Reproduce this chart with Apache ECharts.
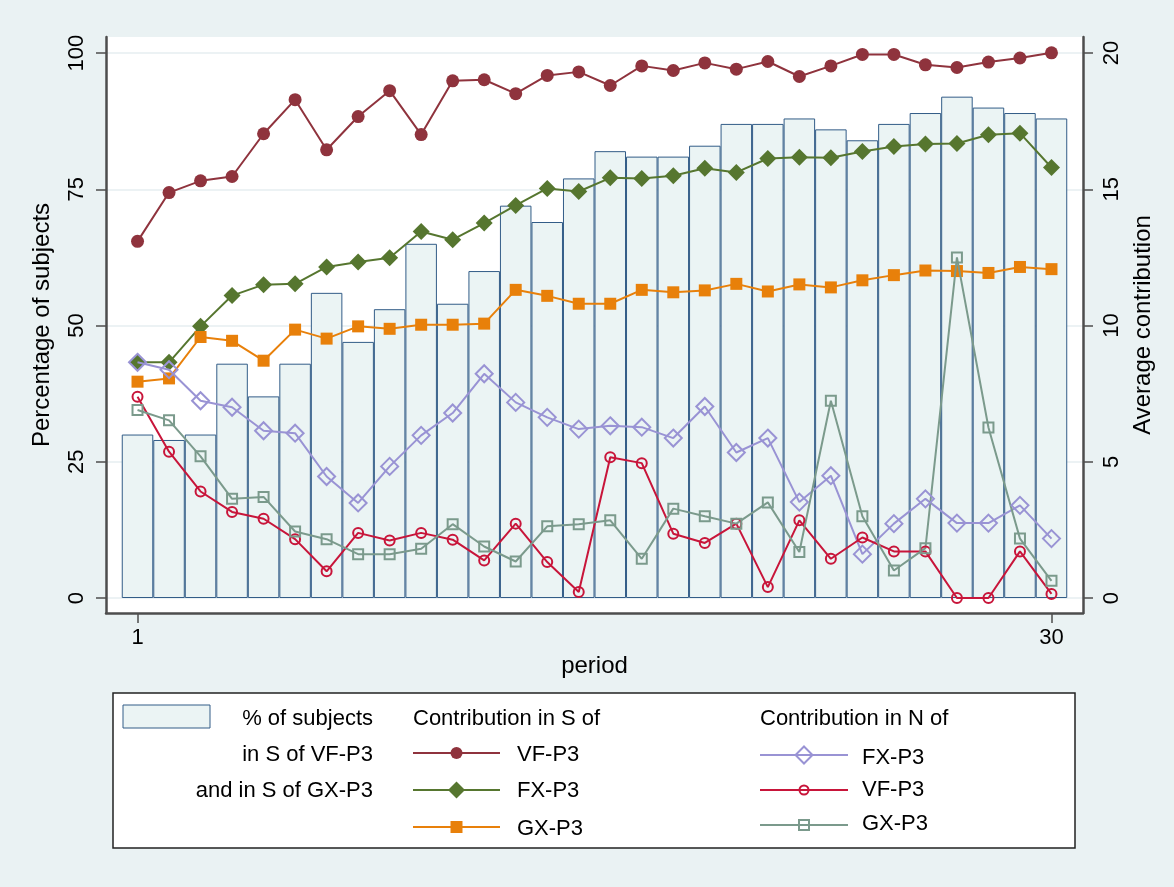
<!DOCTYPE html>
<html>
<head>
<meta charset="utf-8">
<script src="https://cdn.jsdelivr.net/npm/echarts@6/dist/echarts.min.js"></script>
<style>
html,body{margin:0;padding:0;background:#eaf2f3;}
#c{width:1174px;height:887px;}
</style>
</head>
<body>
<div id="c"></div>
<script>
// ---- data ----
const periods = [1,2,3,4,5,6,7,8,9,10,11,12,13,14,15,16,17,18,19,20,21,22,23,24,25,26,27,28,29,30];
const xTickValues = [1, 30];
const leftTickValues = [0, 25, 50, 75, 100];
const rightTickValues = [0, 5, 10, 15, 20];

// % of subjects in S of VF-P3 and in S of GX-P3 (left axis)
const pctSubjects = [30,29,30,43,37,43,56,47,53,65,54,60,72,69,77,82,81,81,83,87,87,88,86,84,87,89,92,90,89,88];

// Contribution in S of ... (right axis)
const sVF = [13.09,14.88,15.31,15.47,17.04,18.29,16.45,17.67,18.62,17.01,18.98,19.02,18.51,19.18,19.31,18.81,19.53,19.36,19.64,19.41,19.69,19.14,19.53,19.95,19.95,19.57,19.47,19.67,19.82,20.01];
const sFX = [8.65,8.65,9.97,11.1,11.5,11.53,12.15,12.33,12.49,13.45,13.15,13.76,14.41,15.03,14.92,15.42,15.4,15.5,15.77,15.62,16.13,16.18,16.16,16.39,16.57,16.66,16.68,17.0,17.06,15.8];
const sGX = [7.94,8.06,9.58,9.44,8.71,9.85,9.52,9.97,9.88,10.03,10.03,10.07,11.31,11.09,10.8,10.8,11.31,11.22,11.29,11.53,11.25,11.51,11.4,11.66,11.85,12.02,12.0,11.93,12.15,12.07];

// Contribution in N of ... (right axis)
const nFX = [8.65,8.38,7.24,7.0,6.14,6.05,4.46,3.49,4.83,5.97,6.79,8.23,7.18,6.63,6.2,6.32,6.27,5.87,7.03,5.34,5.87,3.52,4.49,1.61,2.73,3.64,2.75,2.75,3.4,2.18];
const nVF = [7.39,5.37,3.91,3.16,2.91,2.16,0.98,2.39,2.11,2.39,2.14,1.38,2.73,1.32,0.22,5.17,4.95,2.36,2.02,2.73,0.4,2.85,1.44,2.22,1.71,1.71,0,0,1.71,0.15];
const nGX = [6.9,6.52,5.2,3.64,3.71,2.44,2.16,1.61,1.61,1.81,2.71,1.89,1.34,2.63,2.71,2.85,1.44,3.28,3.0,2.73,3.51,1.69,7.24,3.0,1.01,1.83,12.5,6.26,2.18,0.63];

// ---- styling ----
const FONT = "'Liberation Sans', Arial, Helvetica, sans-serif";
const C = {
  bar: '#ebf4f4', barBorder: '#325c87',
  sVF: '#8f333d', sFX: '#56762f', sGX: '#e8800a',
  nFX: '#9993d4', nVF: '#c8153a', nGX: '#7b9a8c',
  axis: '#4d4d4d', grid: '#e6eef0'
};
const G = {left: 106, top: 37, width: 977, height: 576};
const xMin = 0, xMax = 31;
const barW = G.width / (xMax - xMin);

function pairs(v) { return periods.map((p, i) => [p, v[i]]); }

function lineSeries(name, data, color, symbol, size, hollow, z) {
  return {
    name: name, type: 'line', xAxisIndex: 0, yAxisIndex: 1,
    data: pairs(data), symbol: symbol, symbolSize: size, showSymbol: true,
    lineStyle: {color: color, width: 2},
    itemStyle: hollow
      ? {color: 'rgba(255,255,255,0)', borderColor: color, borderWidth: 2}
      : {color: color, borderWidth: 0},
    z: z, animation: false, silent: true
  };
}

// ---- legend (drawn as graphic) ----
function legendSym(cx, cy, color, kind, size, hollow) {
  const style = hollow ? {fill: 'rgba(0,0,0,0)', stroke: color, lineWidth: 2} : {fill: color};
  const h = size / 2;
  if (kind === 'circle') return {type: 'circle', shape: {cx: cx, cy: cy, r: h}, style: style, z: 12};
  if (kind === 'rect') return {type: 'rect', shape: {x: cx - h, y: cy - h, width: size, height: size}, style: style, z: 12};
  return {type: 'polygon', shape: {points: [[cx, cy - h], [cx + h, cy], [cx, cy + h], [cx - h, cy]]}, style: style, z: 12};
}
function legendItem(x1, x2, y, color, kind, size, hollow, label, lx, ly) {
  return [
    {type: 'line', shape: {x1: x1, y1: y, x2: x2, y2: y}, style: {stroke: color, lineWidth: 2}, z: 11},
    legendSym((x1 + x2) / 2, y, color, kind, size, hollow),
    {type: 'text', style: {text: label, x: lx, y: ly, font: '22px ' + FONT, fill: '#000', align: 'left', verticalAlign: 'middle'}, z: 12}
  ];
}
function txt(t, x, y, align) {
  return {type: 'text', style: {text: t, x: x, y: y, font: '22px ' + FONT, fill: '#000', align: align, verticalAlign: 'middle'}, z: 12};
}

const graphics = [
  {type: 'rect', shape: {x: 113, y: 693, width: 962, height: 155}, style: {fill: '#ffffff', stroke: '#222', lineWidth: 1.5}, z: 10},
  {type: 'rect', shape: {x: 123, y: 705, width: 87, height: 23}, style: {fill: C.bar, stroke: C.barBorder, lineWidth: 1}, z: 11},
  txt('% of subjects', 373, 719, 'right'),
  txt('in S of VF-P3', 373, 755, 'right'),
  txt('and in S of GX-P3', 373, 791, 'right'),
  txt('Contribution in S of', 413, 719, 'left'),
  txt('Contribution in N of', 760, 719, 'left')
].concat(
  legendItem(413, 500, 753, C.sVF, 'circle', 12, false, 'VF-P3', 517, 755),
  legendItem(413, 500, 790, C.sFX, 'diamond', 17, false, 'FX-P3', 517, 791),
  legendItem(413, 500, 827, C.sGX, 'rect', 12, false, 'GX-P3', 517, 829),
  legendItem(760, 848, 755, C.nFX, 'diamond', 17, true, 'FX-P3', 862, 758),
  legendItem(760, 848, 790, C.nVF, 'circle', 9, true, 'VF-P3', 862, 790),
  legendItem(760, 848, 825, C.nGX, 'rect', 10, true, 'GX-P3', 862, 824)
);

const axisText = {fontSize: 22, fontFamily: FONT, color: '#000'};
const titleText = {fontSize: 24, fontFamily: FONT, color: '#000'};

const option = {
  backgroundColor: '#eaf2f3',
  animation: false,
  grid: {left: G.left, top: G.top, width: G.width, height: G.height, show: true, backgroundColor: '#ffffff', borderWidth: 0},
  xAxis: {
    type: 'value', min: xMin, max: xMax,
    name: 'period', nameLocation: 'middle', nameGap: 40, nameTextStyle: titleText,
    axisLine: {show: true, onZero: false, lineStyle: {color: C.axis, width: 2.5}},
    axisTick: {show: true, length: 10, customValues: xTickValues, lineStyle: {color: C.axis, width: 1.5}},
    axisLabel: Object.assign({customValues: xTickValues, margin: 14}, axisText),
    splitLine: {show: false}
  },
  yAxis: [
    {
      type: 'value', position: 'left', min: -2.75, max: 102.95,
      name: 'Percentage of subjects', nameLocation: 'middle', nameRotate: 90, nameGap: 52, nameTextStyle: titleText,
      axisLine: {show: true, onZero: false, lineStyle: {color: C.axis, width: 2.5}},
      axisTick: {show: true, length: 10, customValues: leftTickValues, lineStyle: {color: C.axis, width: 1.5}},
      axisLabel: Object.assign({customValues: leftTickValues, rotate: 90, margin: 18}, axisText),
      splitLine: {show: true, lineStyle: {color: C.grid, width: 1.5}}
    },
    {
      type: 'value', position: 'right', min: -0.55, max: 20.59,
      name: 'Average contribution', nameLocation: 'middle', nameRotate: 90, nameGap: 45, nameTextStyle: titleText,
      axisLine: {show: true, onZero: false, lineStyle: {color: C.axis, width: 2.5}},
      axisTick: {show: true, length: 10, customValues: rightTickValues, lineStyle: {color: C.axis, width: 1.5}},
      axisLabel: Object.assign({customValues: rightTickValues, rotate: 90, margin: 18}, axisText),
      splitLine: {show: false}
    }
  ],
  series: [
    {
      name: '% of subjects in S of VF-P3 and in S of GX-P3', type: 'bar', xAxisIndex: 0, yAxisIndex: 0,
      data: pairs(pctSubjects), barWidth: barW,
      itemStyle: {color: C.bar, borderColor: C.barBorder, borderWidth: 1},
      z: 1, silent: true
    },
    lineSeries('S VF-P3', sVF, C.sVF, 'circle', 13, false, 3),
    lineSeries('S FX-P3', sFX, C.sFX, 'diamond', 17, false, 3),
    lineSeries('S GX-P3', sGX, C.sGX, 'rect', 12, false, 3),
    lineSeries('N FX-P3', nFX, C.nFX, 'diamond', 17, true, 4),
    lineSeries('N VF-P3', nVF, C.nVF, 'circle', 10, true, 4),
    lineSeries('N GX-P3', nGX, C.nGX, 'rect', 10, true, 4)
  ],
  graphic: graphics
};

const chart = echarts.init(document.getElementById('c'), null, {renderer: 'canvas'});
chart.setOption(option);
</script>
</body>
</html>
